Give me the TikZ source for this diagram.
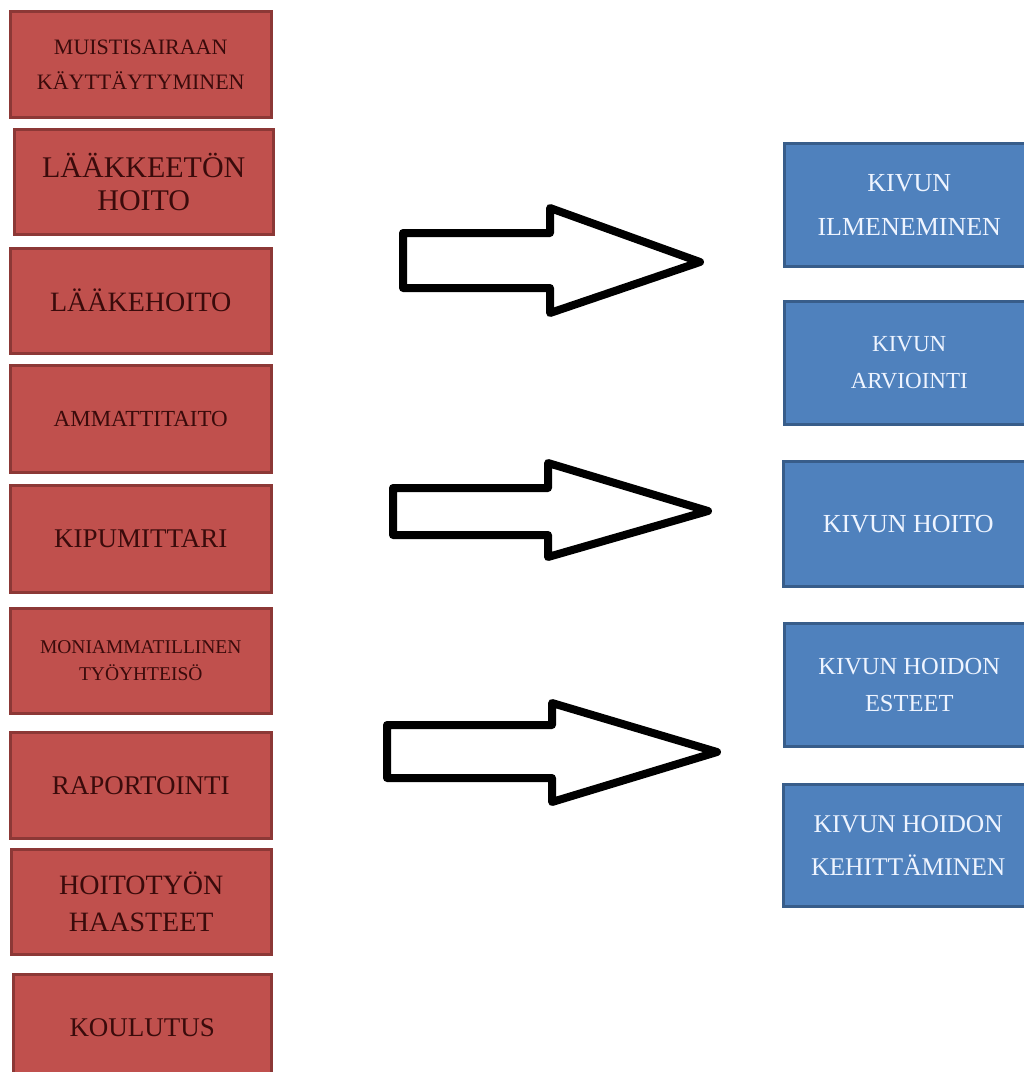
\documentclass[tikz,border=0pt]{standalone}
\usepackage{fontspec}
\setmainfont{Liberation Serif}
\definecolor{redfill}{HTML}{C0504D}
\definecolor{redline}{HTML}{8C3836}
\definecolor{redtext}{HTML}{3A0B0B}
\definecolor{bluefill}{HTML}{4F81BD}
\definecolor{blueline}{HTML}{385D8A}
\definecolor{bluetext}{HTML}{EEF4FF}
\newcommand{\fs}[2]{\fontsize{#1}{#2}\selectfont}
\tikzset{
  redbox/.style={draw=redline, line width=2.5pt, fill=redfill, text=redtext, anchor=north west, inner sep=0pt, align=center, minimum width=261pt, minimum height=106pt},
  bluebox/.style={draw=blueline, line width=2.5pt, fill=bluefill, text=bluetext, anchor=north west, inner sep=0pt, align=center, minimum width=250pt, minimum height=123pt},
  bigarrow/.style={draw=black, fill=white, line width=8pt, line join=round}
}
\begin{document}
\begin{tikzpicture}[x=1pt,y=-1pt]
\useasboundingbox (0,0) rectangle (1024,1072);
\clip (0,0) rectangle (1024,1072);
\fill[white] (0,0) rectangle (1024,1072);
% left column
\node[redbox, font=\fs{22}{35}] (m1) at (9,10) {MUISTISAIRAAN\\KÄYTTÄYTYMINEN};
\node[redbox, minimum width=259pt, minimum height=105pt, font=\fs{30}{33}] (m2) at (13,128) {LÄÄKKEETÖN\\HOITO};
\node[redbox, minimum height=105pt, font=\fs{28}{30}] (m3) at (9,247) {LÄÄKEHOITO};
\node[redbox, minimum height=107pt, font=\fs{23}{26}] (m4) at (9,364) {AMMATTITAITO};
\node[redbox, minimum height=107pt, font=\fs{27}{30}] (m5) at (9,484) {KIPUMITTARI};
\node[redbox, minimum height=105pt, font=\fs{19.5}{27}] (m6) at (9,607) {MONIAMMATILLINEN\\TYÖYHTEISÖ};
\node[redbox, font=\fs{27}{30}] (m7) at (9,731) {RAPORTOINTI};
\node[redbox, minimum width=260pt, minimum height=105pt, font=\fs{28}{37}] (m8) at (10,848) {HOITOTYÖN\\HAASTEET};
\node[redbox, minimum width=258pt, minimum height=106pt, font=\fs{27}{30}] (m9) at (12,973) {KOULUTUS};
% right column
\node[bluebox, font=\fs{26}{44}] (k1) at (783,142) {KIVUN\\ILMENEMINEN};
\node[bluebox, font=\fs{23}{37}] (k2) at (783,300) {KIVUN\\ARVIOINTI};
\node[bluebox, minimum height=125pt, font=\fs{26}{30}] (k3) at (782,460) {KIVUN HOITO};
\node[bluebox, font=\fs{24.5}{37}] (k4) at (783,622) {KIVUN HOIDON\\ESTEET};
\node[bluebox, minimum height=122pt, font=\fs{25.5}{43}] (k5) at (782,783) {KIVUN HOIDON\\KEHITTÄMINEN};
% block arrows
\draw[bigarrow] (403,233) -- (550,233) -- (550,208) -- (700,262) -- (550,313) -- (550,288) -- (403,288) -- cycle;
\draw[bigarrow] (393,488) -- (548,488) -- (548,463) -- (708,511) -- (548,557) -- (548,535) -- (393,535) -- cycle;
\draw[bigarrow] (387,725) -- (552,725) -- (552,703) -- (717,752) -- (552,802) -- (552,778) -- (387,778) -- cycle;
\end{tikzpicture}
\end{document}
